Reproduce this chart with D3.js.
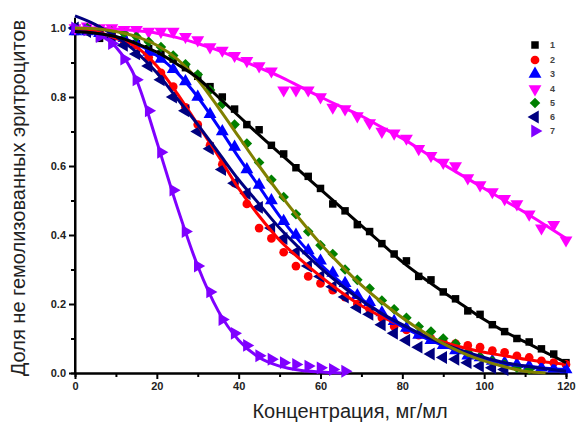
<!DOCTYPE html>
<html>
<head>
<meta charset="utf-8">
<script src="https://cdnjs.cloudflare.com/ajax/libs/d3/7.8.5/d3.min.js"></script>
<style>
    body { margin: 0; background: #fff; }
    svg { display: block; }
</style>
</head>
<body>
<div id="chart"></div>
<script>
// concentration points of the measured markers, mg/ml
const markerX = [0, 3, 6, 9, 12, 15, 18, 21, 24, 27, 30, 33, 36, 39, 42, 45, 48, 51, 54, 57, 60,
    63, 66, 69, 72, 75, 78, 81, 84, 87, 90, 93, 96, 99, 102, 105, 108, 111, 114, 117, 120];

// measured fractions (markers)
const points1 = [0.99, 0.99, 0.97, 0.975, 0.965, 0.955, 0.94, 0.925, 0.91, 0.885, 0.86, 0.83, 0.80, 0.765, 0.72, 0.705,
    0.66, 0.635, 0.595, 0.57, 0.535, 0.49, 0.47, 0.43, 0.41, 0.375, 0.345, 0.325, 0.28, 0.27, 0.235, 0.215, 0.18, 0.17,
    0.14, 0.12, 0.10, 0.09, 0.07, 0.055, 0.03];
const points2 = [1.0, 0.995, 0.99, 0.98, 0.965, 0.95, 0.915, 0.87, 0.83, 0.77, 0.72, 0.66, 0.605, 0.55, 0.49, 0.42,
    0.39, 0.35, 0.31, 0.28, 0.26, 0.24, 0.22, 0.20, 0.185, 0.16, 0.135, 0.125, 0.11, 0.10, 0.09, 0.085, 0.08, 0.075,
    0.065, 0.06, 0.05, 0.045, 0.035, 0.03, 0.025];
const points3 = [0.99, 0.99, 0.985, 0.975, 0.97, 0.955, 0.93, 0.91, 0.88, 0.845, 0.80, 0.75, 0.70, 0.655, 0.59, 0.545,
    0.50, 0.44, 0.40, 0.355, 0.325, 0.29, 0.26, 0.225, 0.205, 0.175, 0.15, 0.13, 0.11, 0.095, 0.08, 0.065, 0.05, 0.045,
    0.035, 0.03, 0.025, 0.02, 0.015, 0.012, 0.01];
const points4 = [1.0, 1.005, 1.0, 1.0, 0.995, 0.995, 0.99, 0.99, 0.99, 0.975, 0.965, 0.945, 0.935, 0.92, 0.905, 0.89,
    0.875, 0.82, 0.82, 0.82, 0.80, 0.77, 0.765, 0.745, 0.725, 0.70, 0.695, 0.68, 0.65, 0.63, 0.61, 0.60, 0.565, 0.545,
    0.525, 0.505, 0.49, 0.46, 0.42, 0.43, 0.385];
const points5 = [1.0, 1.0, 0.995, 0.99, 0.985, 0.975, 0.96, 0.945, 0.92, 0.895, 0.865, 0.82, 0.78, 0.72, 0.665, 0.61,
    0.56, 0.51, 0.46, 0.41, 0.37, 0.345, 0.30, 0.27, 0.245, 0.21, 0.185, 0.16, 0.135, 0.12, 0.10, 0.085, 0.06, 0.047,
    0.035, 0.025, 0.015, 0.01];
const points6 = [1.0, 0.99, 0.985, 0.97, 0.95, 0.925, 0.89, 0.85, 0.80, 0.76, 0.70, 0.65, 0.59, 0.55, 0.52, 0.48,
    0.42, 0.39, 0.35, 0.31, 0.28, 0.25, 0.22, 0.19, 0.17, 0.14, 0.115, 0.095, 0.075, 0.055, 0.045, 0.04, 0.03, 0.02,
    0.015, 0.01];
const points7 = [1.0, 0.995, 0.975, 0.955, 0.91, 0.85, 0.76, 0.64, 0.53, 0.41, 0.31, 0.235, 0.155, 0.115, 0.08, 0.05,
    0.04, 0.03, 0.025, 0.02, 0.015, 0.01, 0.005];

// fitted curves, read every 5 mg/ml
const fitX = [0, 5, 10, 15, 20, 25, 30, 35, 40, 45, 50, 55, 60, 65, 70, 75, 80, 85, 90, 95, 100, 105, 110, 115, 120];
const fit1 = [0.99, 0.985, 0.975, 0.955, 0.93, 0.895, 0.855, 0.80, 0.745, 0.69, 0.637, 0.585, 0.532, 0.48, 0.427,
    0.375, 0.322, 0.277, 0.235, 0.195, 0.155, 0.12, 0.09, 0.06, 0.03];
const fit2 = [0.995, 0.99, 0.97, 0.945, 0.89, 0.81, 0.72, 0.63, 0.535, 0.455, 0.385, 0.33, 0.28, 0.235, 0.195, 0.163,
    0.135, 0.11, 0.09, 0.073, 0.06, 0.05, 0.04, 0.032, 0.025];
const fit3 = [0.99, 0.985, 0.975, 0.955, 0.92, 0.87, 0.80, 0.715, 0.625, 0.54, 0.455, 0.38, 0.315, 0.262, 0.215, 0.172,
    0.135, 0.105, 0.08, 0.058, 0.04, 0.028, 0.02, 0.014, 0.01];
const fit4 = [1.0, 1.0, 0.997, 0.992, 0.985, 0.972, 0.955, 0.935, 0.91, 0.885, 0.86, 0.83, 0.80, 0.772, 0.745, 0.712,
    0.68, 0.643, 0.605, 0.57, 0.535, 0.50, 0.465, 0.428, 0.39];
const fit5 = [1.0, 0.998, 0.99, 0.975, 0.95, 0.91, 0.85, 0.77, 0.685, 0.60, 0.52, 0.445, 0.375, 0.312, 0.255, 0.205,
    0.16, 0.12, 0.085, 0.057, 0.035, 0.018, 0.005, 0.0];
const fit6 = [1.035, 1.01, 0.975, 0.93, 0.87, 0.795, 0.72, 0.64, 0.56, 0.49, 0.42, 0.36, 0.305, 0.255, 0.21, 0.172,
    0.14, 0.11, 0.085, 0.063, 0.045, 0.03, 0.02, 0.012, 0.005];
const fit7 = [1.0, 0.985, 0.945, 0.85, 0.67, 0.48, 0.31, 0.18, 0.095, 0.045, 0.02, 0.008, 0.003, 0.0];

const seriesNames = ['1', '2', '3', '4', '5', '6', '7'];
const xTicks = [0, 20, 40, 60, 80, 100, 120];
const yTicks = [0.0, 0.2, 0.4, 0.6, 0.8, 1.0];

class HemolysisChart {
    constructor(parentElement) {
        this.parentElement = parentElement;
        this.initVis();
    }

    initVis() {
        let vis = this;

        vis.width = 578;
        vis.height = 425;

        vis.svg = d3.select("#" + vis.parentElement)
            .append("svg")
            .attr("width", vis.width)
            .attr("height", vis.height)
            .style("font-family", "'Liberation Sans', Arial, sans-serif");

        vis.x = d3.scaleLinear().domain([0, 120]).range([75, 566]);
        vis.y = d3.scaleLinear().domain([0, 1]).range([373, 28]);

        // marker shapes: square, circle, up, down, diamond, left, right
        const tri = d3.symbol().type(d3.symbolTriangle).size(72)();
        const sq = d3.symbol().type(d3.symbolSquare).size(56)();
        vis.series = [
            { name: seriesNames[0], pts: points1, fit: fit1, color: '#000000', line: '#000000', path: sq, rot: 0 },
            { name: seriesNames[1], pts: points2, fit: fit2, color: '#ff0000', line: '#ff0000', path: d3.symbol().type(d3.symbolCircle).size(60)(), rot: 0 },
            { name: seriesNames[2], pts: points3, fit: fit3, color: '#0000ff', line: '#0000ff', path: tri, rot: 0 },
            { name: seriesNames[3], pts: points4, fit: fit4, color: '#ff00ff', line: '#ff00ff', path: tri, rot: 180 },
            { name: seriesNames[4], pts: points5, fit: fit5, color: '#008000', line: '#808000', path: sq, rot: 45 },
            { name: seriesNames[5], pts: points6, fit: fit6, color: '#000080', line: '#000080', path: tri, rot: -90 },
            { name: seriesNames[6], pts: points7, fit: fit7, color: '#8000ff', line: '#7f00ff', path: tri, rot: 90 }
        ];

        vis.drawAxes();
        vis.drawData();
        vis.drawLegend();
    }

    drawAxes() {
        let vis = this;

        const styleAxis = g => {
            g.selectAll("path, line").attr("stroke", "#000").attr("stroke-width", 2);
            g.selectAll("text")
                .style("font-size", "11px")
                .style("font-weight", "bold")
                .attr("fill", "#222");
        };

        // minor ticks
        vis.svg.append("g")
            .attr("transform", "translate(0,373)")
            .call(d3.axisBottom(vis.x).tickValues([10, 30, 50, 70, 90, 110]).tickSize(4).tickFormat(""))
            .call(styleAxis);
        vis.svg.append("g")
            .attr("transform", "translate(75,0)")
            .call(d3.axisLeft(vis.y).tickValues([0.1, 0.3, 0.5, 0.7, 0.9]).tickSize(4).tickFormat(""))
            .call(styleAxis);

        // major ticks
        vis.svg.append("g")
            .attr("transform", "translate(0,373)")
            .call(d3.axisBottom(vis.x).tickValues(xTicks).tickSize(6).tickSizeOuter(0).tickFormat(d3.format("d")))
            .call(styleAxis);

        vis.yAxisG = vis.svg.append("g")
            .attr("transform", "translate(75,0)")
            .call(d3.axisLeft(vis.y).tickValues(yTicks).tickSize(6).tickSizeOuter(0).tickFormat(d3.format(".1f")))
            .call(styleAxis);
        // axis runs a little above 1.0
        vis.yAxisG.select(".domain").attr("d", `M0,${vis.y(0)}V${vis.y(1.03)}`);

        vis.svg.append("text")
            .attr("x", 350)
            .attr("y", 418)
            .attr("text-anchor", "middle")
            .style("font-size", "20px")
            .attr("fill", "#222")
            .text("Концентрация, мг/мл");

        vis.svg.append("text")
            .attr("transform", "translate(25,198) rotate(-90)")
            .attr("text-anchor", "middle")
            .style("font-size", "20px")
            .attr("fill", "#222")
            .text("Доля не гемолизованных эритроцитов");
    }

    drawData() {
        let vis = this;

        const markers = vis.svg.append("g").attr("class", "markers");
        vis.series.forEach(s => {
            markers.append("g")
                .selectAll("path")
                .data(s.pts.map((v, i) => ({ x: markerX[i], y: v })))
                .enter()
                .append("path")
                .attr("d", s.path)
                .attr("fill", s.color)
                .attr("transform", d => `translate(${vis.x(d.x)},${vis.y(d.y)}) rotate(${s.rot})`);
        });

        const line = d3.line()
            .x(d => vis.x(d.x))
            .y(d => vis.y(d.y))
            .curve(d3.curveMonotoneX);

        const lineOrder = [3, 6, 1, 2, 5, 4, 0];
        vis.svg.append("g")
            .attr("class", "fits")
            .selectAll("path")
            .data(lineOrder.map(i => vis.series[i]))
            .enter()
            .append("path")
            .attr("d", s => line(s.fit.map((v, i) => ({ x: fitX[i], y: v }))))
            .attr("fill", "none")
            .attr("stroke", s => s.line)
            .attr("stroke-width", 3);
    }

    drawLegend() {
        let vis = this;

        const rowY = [45, 60, 74, 89, 103, 117, 131];
        const legend = vis.svg.append("g").attr("class", "legend");

        const rows = legend.selectAll("g")
            .data(vis.series)
            .enter()
            .append("g")
            .attr("transform", (d, i) => `translate(535,${rowY[i]})`);

        rows.append("path")
            .attr("d", d => d.path)
            .attr("fill", d => d.color)
            .attr("transform", d => `rotate(${d.rot})`);

        rows.append("text")
            .attr("x", 15)
            .attr("dy", "0.35em")
            .style("font-size", "9px")
            .style("font-weight", "bold")
            .attr("fill", "#444")
            .text(d => d.name);
    }
}

new HemolysisChart("chart");
</script>
</body>
</html>
